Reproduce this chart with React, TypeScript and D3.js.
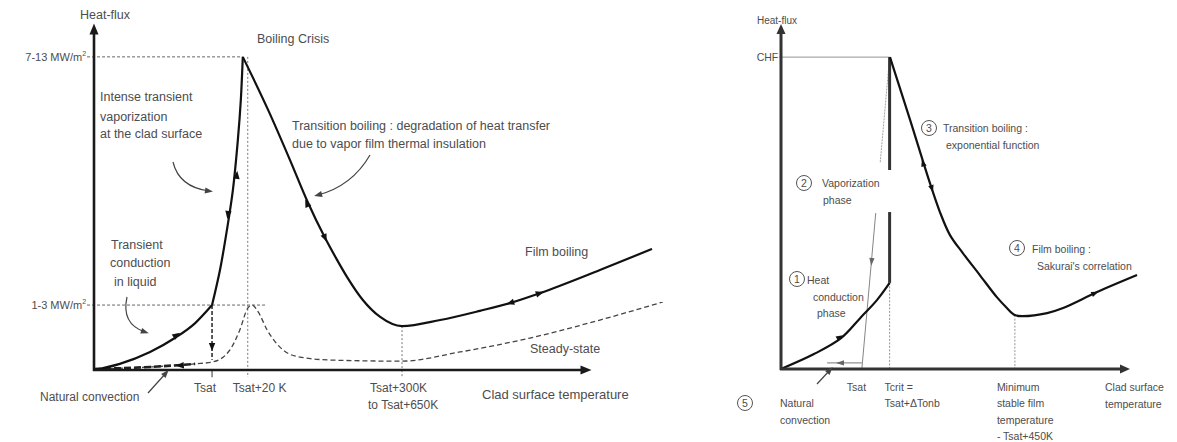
import React, { useEffect } from "react";
import * as d3 from "d3";

type P = [number, number];

// ---------- LEFT PANEL DATA (normalized temperature 0-100, heat flux 0-100) ----------
const leftConduction: P[] = [[0, 0], [5.2, 1.8], [11.3, 5.3], [16.3, 9.4], [20.4, 13.8], [23.8, 19.1]];
const leftVaporization: P[] = [[23.8, 19.1], [25.4, 29.4], [26.8, 41.2], [28.0, 52.9], [29.0, 67.6], [29.6, 79.4], [30.0, 92.1]];
const leftTransitionFilm: P[] = [[30.0, 92.1], [35.1, 76.5], [39.5, 61.8], [42.9, 50.0], [46.6, 38.8], [49.0, 32.4], [51.0, 27.4], [54.2, 20.6], [57.7, 15.6], [62.1, 12.9], [69.8, 14.7], [77.8, 17.4], [83.9, 19.7], [89.9, 22.6], [102.0, 29.4], [112.5, 35.6]];
const leftSteadyState: P[] = [[0, 0.3], [11.3, 0.9], [20.4, 1.8], [24.0, 2.4], [27.4, 5.9], [29.4, 11.8], [31.0, 18.2], [31.9, 19.1], [33.1, 17.1], [34.9, 11.8], [38.1, 5.9], [41.5, 3.8], [48.2, 2.9], [62.1, 2.6], [73.8, 5.3], [87.9, 9.4], [102.0, 14.7], [114.7, 20.0]];
const leftNaturalConvection: P[] = [[0, 0.3], [11.3, 0.9], [20.4, 1.8]];
const leftQuench: P[] = [[23.8, 19.1], [23.8, 3.0]];
const leftYTicks = [
  { label: "7-13 MW/m", sup: "2", value: 92.1, to: 30.0 },
  { label: "1-3 MW/m", sup: "2", value: 19.1, to: 34.5 },
];
const leftXTicks = [
  { lines: ["Tsat"], value: 23.8, from: 19.1 },
  { lines: ["Tsat+20 K"], value: 31.0, from: 92.1 },
  { lines: ["Tsat+300K", "to Tsat+650K"], value: 62.1, from: 12.9 },
];
// arrows on curves: [x, y, dx, dy]
const leftArrows: [number, number, number, number][] = [
  [16.7, 10.3, 1, 0.93],
  [28.8, 57.4, 1, 14.7],
  [27.0, 45.6, -1.2, -11.8],
  [42.9, 49.1, -3.4, 11.2],
  [46.6, 38.8, 3.4, -11.2],
  [83.9, 19.7, -1, -0.48],
  [89.9, 22.6, 1, 0.48],
  [23.8, 6.8, 0, -1],
  [17.3, 1.3, -1, -0.1],
];

// ---------- RIGHT PANEL DATA ----------
const rightConduction: P[] = [[0, 0], [9.5, 4.4], [17.3, 9.1], [22.8, 15.0], [27.7, 20.4], [31.3, 25.4]];
const rightVaporLow: P[] = [[31.3, 25.4], [31.3, 46.3]];
const rightVaporHigh: P[] = [[31.3, 58.7], [31.3, 92.0]];
const rightTransitionFilm: P[] = [[31.4, 92.0], [37.2, 73.5], [42.9, 54.9], [45.8, 46.3], [48.7, 39.5], [52.4, 34.2], [57.3, 27.7], [62.2, 21.2], [65.1, 18.0], [67.4, 15.9], [69.7, 15.6], [76.7, 16.5], [81.3, 18.0], [91.1, 22.7], [102.6, 27.7]];
const rightTsatLow: P[] = [[23.3, 0], [27.3, 46.0]];
const rightTsatHigh: P[] = [[28.6, 61.0], [31.3, 92.0]];
const rightNaturalConvection: P[] = [[23.3, 1.8], [13.3, 1.8]];
const rightYTicks = [{ label: "CHF", value: 92.0, to: 31.3 }];
const rightXTicks = [
  { lines: ["Tsat"], value: 23.3, from: 0 },
  { lines: ["Tcrit =", "Tsat+\u0394Tonb"], value: 31.3, from: 25.4 },
  { lines: ["Minimum", "stable film", "temperature", "- Tsat+450K"], value: 67.4, from: 15.9 },
];
const rightArrows: [number, number, number, number][] = [
  [17.0, 9.4, 1, 0.6],
  [40.9, 60.8, -1, 3.25],
  [43.5, 53.2, 1, -3.25],
  [90.5, 22.4, 1, 0.45],
  [26.1, 31.6, -8.1, -92],
  [17.0, 1.8, -1, 0],
];
const rightPhases = [
  { n: "1", lines: ["Heat", "conduction", "phase"] },
  { n: "2", lines: ["Vaporization", "phase"] },
  { n: "3", lines: ["Transition boiling :", "exponential function"] },
  { n: "4", lines: ["Film boiling :", "Sakurai's correlation"] },
  { n: "5", lines: ["Natural", "convection"] },
];

// ---------- LAYOUT ----------
const W = 1177, H = 442;
const LX = d3.scaleLinear().domain([0, 100]).range([94, 590]);
const LY = d3.scaleLinear().domain([0, 100]).range([370, 30]);
const RX = d3.scaleLinear().domain([0, 100]).range([781, 1128]);
const RY = d3.scaleLinear().domain([0, 100]).range([369, 30]);

const TXT = "#4d4d4d";
const FONT = "'Liberation Sans', Arial, sans-serif";

function head(x: number, y: number, dx: number, dy: number, len = 8, half = 3.2) {
  const L = Math.hypot(dx, dy) || 1;
  const ux = dx / L, uy = dy / L, nx = -uy, ny = ux;
  const tx = x + ux * len / 2, ty = y + uy * len / 2;
  const bx = x - ux * len / 2, by = y - uy * len / 2;
  return `${tx},${ty} ${bx + nx * half},${by + ny * half} ${bx - nx * half},${by - ny * half}`;
}

function lineGen(sx: d3.ScaleLinear<number, number>, sy: d3.ScaleLinear<number, number>, curve: d3.CurveFactory = d3.curveMonotoneX) {
  return d3.line<P>().x(d => sx(d[0])).y(d => sy(d[1])).curve(curve);
}

function CurveArrows({ arr, sx, sy, len = 8, half = 3.2, fill = "#111" }: any) {
  return (
    <g>
      {arr.map((a: number[], i: number) => {
        const [x, y, dx, dy] = a;
        const px = sx(x), py = sy(y);
        const k = 0.5;
        const pdx = sx(x + dx * k) - px, pdy = sy(y + dy * k) - py;
        return <polygon key={i} points={head(px, py, pdx, pdy, len, half)} fill={fill} />;
      })}
    </g>
  );
}

function Annot({ d, ex, ey, cx, cy }: { d: string; ex: number; ey: number; cx: number; cy: number }) {
  return (
    <g>
      <path d={d} fill="none" stroke="#444" strokeWidth={1.2} />
      <polygon points={head(ex, ey, ex - cx, ey - cy, 8, 3)} fill="#444" />
    </g>
  );
}

// text layout offsets for tick labels
const leftXTickLayout = [
  { dx: -7, anchor: "middle" },
  { dx: -15, anchor: "start" },
  { dx: -32, anchor: "start" },
];
const rightXTickLayout = [
  { dx: -15, anchor: "start" },
  { dx: -5, anchor: "start" },
  { dx: -18, anchor: "start" },
];
const phaseLayout = [
  { cx: 797, cy: 279, tx: 807, ty: 284, dxs: [0, 6, 10] },
  { cx: 804, cy: 183, tx: 822, ty: 187, dxs: [0, 1] },
  { cx: 929, cy: 128, tx: 943, ty: 132, dxs: [0, 3] },
  { cx: 1017, cy: 248, tx: 1032, ty: 253, dxs: [0, 5] },
  { cx: 745, cy: 403, tx: 780, ty: 407, dxs: [0, 0] },
];

export default function App() {
  useEffect(() => {
    document.body.style.margin = "0";
  }, []);

  const lCurve = lineGen(LX, LY);
  const lCR = lineGen(LX, LY, d3.curveCatmullRom);
  const lLin = lineGen(LX, LY, d3.curveLinear);
  const rCR = lineGen(RX, RY, d3.curveCatmullRom);
  const rLin = lineGen(RX, RY, d3.curveLinear);

  return (
    <svg width={W} height={H} style={{ display: "block", background: "#fff" }} fontFamily={FONT}>
      {/* ================= LEFT PANEL ================= */}
      <g>
        {leftYTicks.map((t, i) => (
          <g key={i}>
            <line x1={LX(-1.4)} x2={LX(t.to)} y1={LY(t.value)} y2={LY(t.value)} stroke="#666" strokeWidth={1} strokeDasharray="3,2" />
            <text x={LX(-1.4) - 1} y={LY(t.value) + 4} textAnchor="end" fontSize={11} fill={TXT}>
              {t.label}
              <tspan fontSize={7} dy={-5}>{t.sup}</tspan>
            </text>
          </g>
        ))}
        {leftXTicks.map((t, i) => (
          <g key={i}>
            {i > 0 && <line x1={LX(t.value)} x2={LX(t.value)} y1={LY(t.from)} y2={LY(-2.1)} stroke="#777" strokeWidth={1} strokeDasharray="2,2" />}
            {i === 0 && <line x1={LX(t.value)} x2={LX(t.value)} y1={LY(0)} y2={LY(-2.1)} stroke="#555" strokeWidth={1.2} />}
            {t.lines.map((s, j) => (
              <text key={j} x={LX(t.value) + leftXTickLayout[i].dx - (j === 1 ? 2 : 0)} y={392 + j * 17} textAnchor={leftXTickLayout[i].anchor as any} fontSize={12} fill={TXT}>{s}</text>
            ))}
          </g>
        ))}

        <path d={lCurve(leftSteadyState) || ""} fill="none" stroke="#444" strokeWidth={1.3} strokeDasharray="5,3" />
        <path d={lCurve(leftNaturalConvection) || ""} fill="none" stroke="#222" strokeWidth={2.6} strokeDasharray="7,3" />
        <path d={lLin(leftQuench) || ""} fill="none" stroke="#333" strokeWidth={1.6} strokeDasharray="4,2" />

        <path d={lCurve(leftConduction) || ""} fill="none" stroke="#111" strokeWidth={2.2} />
        <path d={lCR(leftVaporization) || ""} fill="none" stroke="#111" strokeWidth={2.2} />
        <path d={lCurve(leftTransitionFilm) || ""} fill="none" stroke="#111" strokeWidth={2.2} />
        <CurveArrows arr={leftArrows} sx={LX} sy={LY} />

        <line x1={LX(0)} x2={LX(0)} y1={LY(0) + 1} y2={LY(100) + 4} stroke="#1a1a1a" strokeWidth={2.6} />
        <polygon points={head(LX(0), LY(100) - 1, 0, -1, 11, 4.5)} fill="#1a1a1a" />
        <line x1={LX(0) - 1} x2={LX(100) - 5} y1={LY(0)} y2={LY(0)} stroke="#1a1a1a" strokeWidth={2.6} />
        <polygon points={head(LX(100) - 4, LY(0), 1, 0, 11, 4.5)} fill="#1a1a1a" />

        <text x={80} y={19} fontSize={12.5} fill={TXT}>Heat-flux</text>
        <text x={257} y={43} fontSize={12.5} fill={TXT}>Boiling Crisis</text>
        <text x={100} y={101} fontSize={12.5} fill={TXT}>Intense transient</text>
        <text x={100} y={121} fontSize={12.5} fill={TXT}>vaporization</text>
        <text x={100} y={138} fontSize={12.5} fill={TXT}>at the clad surface</text>
        <text x={292} y={130} fontSize={12.5} fill={TXT}>Transition boiling : degradation of heat transfer</text>
        <text x={292} y={148} fontSize={12.5} fill={TXT}>due to vapor film thermal insulation</text>
        <text x={111} y={249} fontSize={12.5} fill={TXT}>Transient</text>
        <text x={110} y={267} fontSize={12.5} fill={TXT}>conduction</text>
        <text x={114} y={286} fontSize={12.5} fill={TXT}>in liquid</text>
        <text x={40} y={401} fontSize={12} fill={TXT}>Natural convection</text>
        <text x={525} y={256} fontSize={12.5} fill={TXT}>Film boiling</text>
        <text x={530} y={353} fontSize={12.5} fill={TXT}>Steady-state</text>
        <text x={482} y={399} fontSize={13} fill={TXT}>Clad surface temperature</text>

        <Annot d="M173,162 Q179,187 209,191" ex={209} ey={191} cx={179} cy={187} />
        <Annot d="M370,155 Q352,186 318,195" ex={318} ey={195} cx={352} cy={186} />
        <Annot d="M127,297 Q121,324 145,332" ex={145} ey={332} cx={121} cy={324} />
        <Annot d="M148,393 L166,373" ex={166} ey={373} cx={148} cy={393} />
      </g>

      {/* ================= RIGHT PANEL ================= */}
      <g>
        {rightYTicks.map((t, i) => (
          <g key={i}>
            <line x1={RX(-0.5)} x2={RX(t.to)} y1={RY(t.value)} y2={RY(t.value)} stroke="#888" strokeWidth={0.9} />
            <text x={RX(-0.8)} y={RY(t.value) + 4} textAnchor="end" fontSize={10.5} fill={TXT}>{t.label}</text>
          </g>
        ))}
        {rightXTicks.map((t, i) => (
          <g key={i}>
            {i > 0 && <line x1={RX(t.value)} x2={RX(t.value)} y1={RY(t.from)} y2={RY(0)} stroke="#888" strokeWidth={0.9} strokeDasharray="2,1.5" />}
            {t.lines.map((s, j) => (
              <text key={j} x={RX(t.value) + rightXTickLayout[i].dx} y={391 + j * 16.3} textAnchor={rightXTickLayout[i].anchor as any} fontSize={10.5} fill={TXT}>{s}</text>
            ))}
          </g>
        ))}

        <path d={rLin(rightTsatLow) || ""} fill="none" stroke="#777" strokeWidth={0.9} />
        <path d={rLin(rightTsatHigh) || ""} fill="none" stroke="#999" strokeWidth={0.9} strokeDasharray="2,1" />
        <path d={rLin(rightNaturalConvection) || ""} fill="none" stroke="#777" strokeWidth={1} />

        <path d={rCR(rightConduction) || ""} fill="none" stroke="#111" strokeWidth={2.2} />
        <path d={rLin(rightVaporLow) || ""} fill="none" stroke="#333" strokeWidth={3} />
        <path d={rLin(rightVaporHigh) || ""} fill="none" stroke="#333" strokeWidth={3} />
        <path d={rCR(rightTransitionFilm) || ""} fill="none" stroke="#111" strokeWidth={2.2} />
        <CurveArrows arr={rightArrows.slice(0, 4)} sx={RX} sy={RY} len={7} half={2.8} />
        <CurveArrows arr={rightArrows.slice(4)} sx={RX} sy={RY} len={8} half={2.6} fill="#666" />

        <line x1={RX(0)} x2={RX(0)} y1={RY(0) + 1} y2={RY(100) + 4} stroke="#333" strokeWidth={3} />
        <polygon points={head(RX(0), RY(100) - 1, 0, -1, 10, 4.5)} fill="#333" />
        <line x1={RX(0) - 1} x2={RX(100) - 4} y1={RY(0)} y2={RY(0)} stroke="#333" strokeWidth={3} />
        <polygon points={head(RX(100) - 3, RY(0), 1, 0, 10, 4.5)} fill="#333" />

        <text x={757} y={24} fontSize={10} fill={TXT}>Heat-flux</text>
        <text x={1105} y={391} fontSize={10.5} fill={TXT}>Clad surface</text>
        <text x={1105} y={408} fontSize={10.5} fill={TXT}>temperature</text>

        {rightPhases.map((p, i) => {
          const L = phaseLayout[i];
          return (
            <g key={i}>
              <circle cx={L.cx} cy={L.cy} r={7.5} fill="#fff" stroke="#555" strokeWidth={1} />
              <text x={L.cx} y={L.cy + 3.8} textAnchor="middle" fontSize={10.5} fill={TXT}>{p.n}</text>
              {p.lines.map((s, j) => (
                <text key={j} x={L.tx + L.dxs[j]} y={L.ty + j * 16.5} fontSize={10.5} fill={TXT}>{s}</text>
              ))}
            </g>
          );
        })}
        <Annot d="M817,384 L830,370" ex={830} ey={370} cx={817} cy={384} />
      </g>
    </svg>
  );
}
